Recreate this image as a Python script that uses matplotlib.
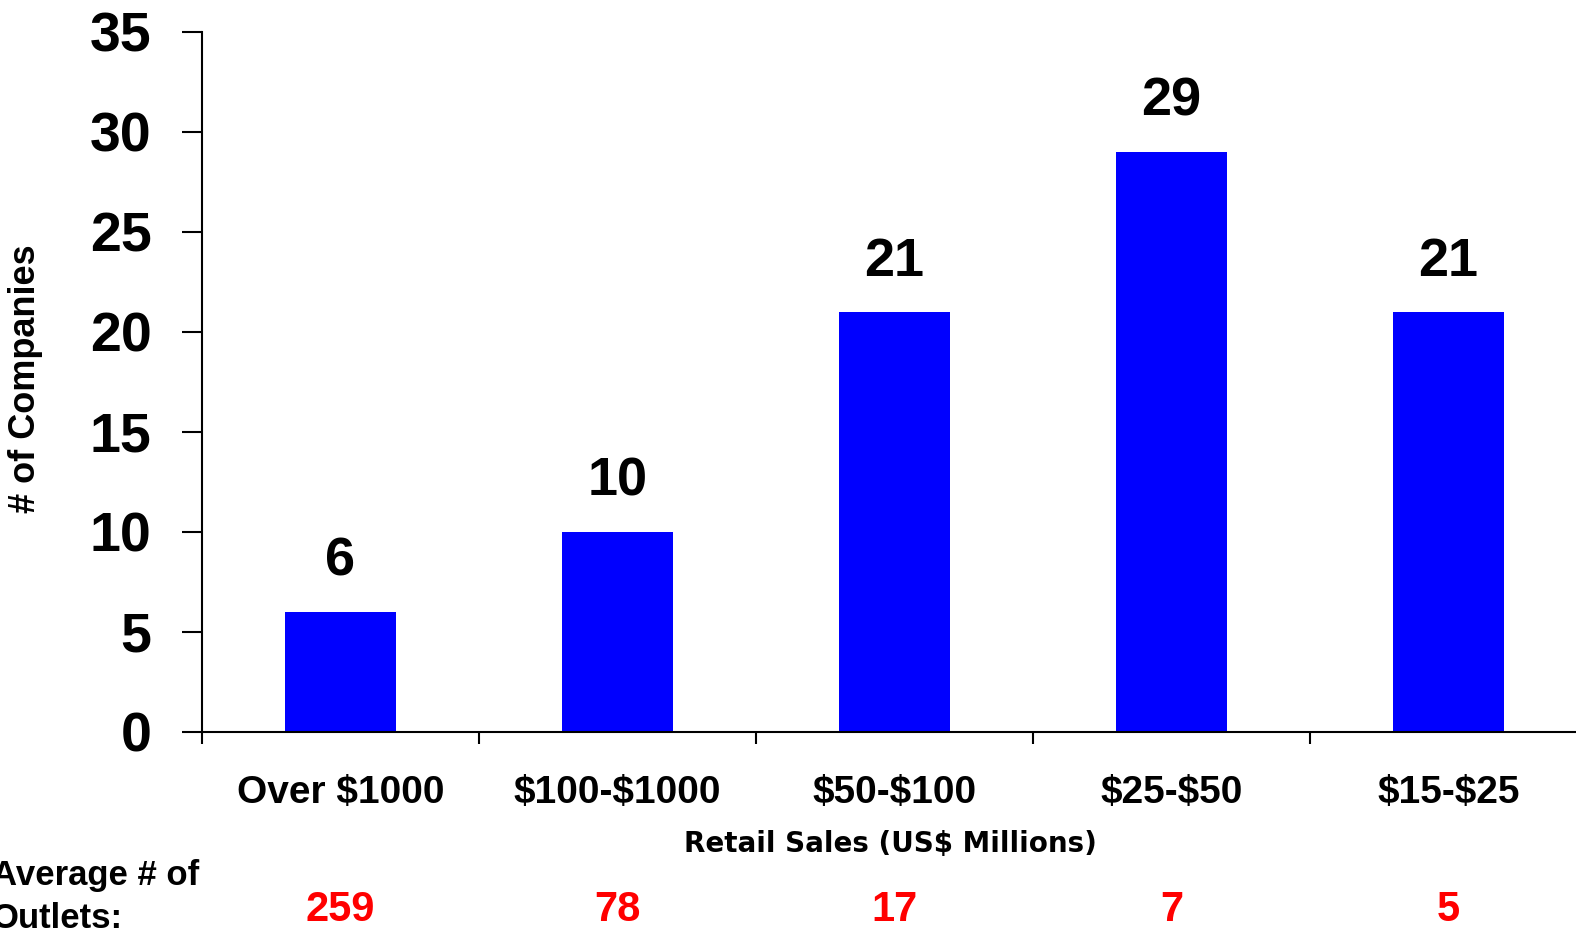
import matplotlib.pyplot as plt

# retail sales bands and company counts
categories = ['Over \\$1000', '\\$100-\\$1000', '\\$50-\\$100', '\\$25-\\$50', '\\$15-\\$25']
companies = [6, 10, 21, 29, 21]
avg_outlets = [259, 78, 17, 7, 5]
yticks = [0, 5, 10, 15, 20, 25, 30, 35]

plt.rcParams['font.family'] = ['Liberation Sans', 'DejaVu Sans']
plt.rcParams['font.weight'] = 'bold'

fig = plt.figure(figsize=(15.76, 9.3), dpi=100)
ax = fig.add_axes([0.12817, 0.21323, 0.8788, 0.75269])

x = list(range(len(categories)))
ax.bar(x, companies, width=0.40, color='#0000ff', zorder=2)

for xi, v in zip(x, companies):
    ax.text(xi, v + 1.25, str(v), ha='center', va='bottom',
            fontsize=39, fontweight='bold')

ax.set_xlim(-0.5, 4.5)
ax.set_ylim(0, 35)
ax.set_yticks(yticks)
ax.set_yticklabels([str(t) for t in yticks], fontsize=40, fontweight='bold')

# labels at the bar centres, tick marks on the category boundaries
ax.set_xticks(x)
ax.set_xticklabels(categories, fontsize=28, fontweight='bold')
ax.tick_params(axis='x', which='major', length=0, pad=31)
ax.set_xticks([i - 0.5 for i in range(len(categories) + 1)], minor=True)
ax.tick_params(axis='x', which='minor', length=8.6, width=1.5, direction='out')
ax.tick_params(axis='y', length=14.4, width=1.5, direction='out', pad=22)

for side in ['top', 'right']:
    ax.spines[side].set_visible(False)
for side in ['left', 'bottom']:
    ax.spines[side].set_linewidth(1.5)

ax.set_xlabel('Retail Sales (US\\$ Millions)', fontsize=20, fontweight='bold',
              family='DejaVu Sans')
ax.xaxis.set_label_coords(0.4968, -0.140)
ax.set_ylabel('# of Companies', fontsize=26, fontweight='bold')
ax.yaxis.set_label_coords(-0.115, 0.505)

# average outlet counts under each band
fig.text(-0.005, (930 - 885) / 930, 'Average # of', fontsize=25, fontweight='bold',
         ha='left', va='baseline')
fig.text(-0.005, (930 - 928) / 930, 'Outlets:', fontsize=25, fontweight='bold',
         ha='left', va='baseline')
for xi, n in zip(x, avg_outlets):
    xf = ax.transData.transform((xi, 0))[0] / fig.bbox.width
    fig.text(xf, (930 - 921) / 930, str(n), fontsize=30, fontweight='bold',
             color='#ff0000', ha='center', va='baseline')

fig.savefig('out.png', dpi=100)
